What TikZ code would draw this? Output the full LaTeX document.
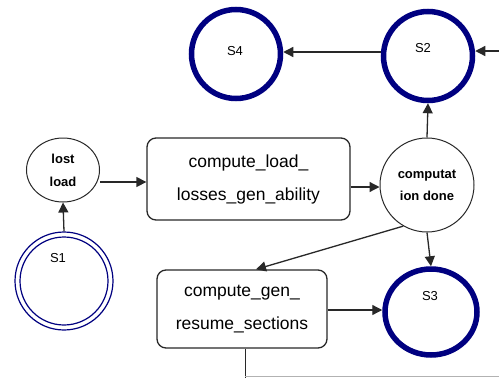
\documentclass[tikz,border=0pt]{standalone}
\usepackage{fontspec}
\setmainfont{Liberation Sans}
\usetikzlibrary{arrows.meta,shapes.geometric}
\definecolor{stnavy}{RGB}{0,0,128}
\definecolor{edge}{RGB}{40,40,40}
\begin{document}
\begin{tikzpicture}[x=1pt,y=-1pt,
  conn/.style={draw=edge,line width=1.3pt,-{Triangle[length=10pt,width=10pt]}},
  finalst/.style={circle,draw=stnavy,line width=5.5pt,minimum size=89pt,inner sep=0pt},
  procbox/.style={draw=edge,line width=1.3pt,rounded corners=9pt,inner sep=0pt,align=center,font=\fontsize{17.5}{33}\selectfont},
  slabel/.style={font=\bfseries\fontsize{13}{15}\selectfont},
  stlabel/.style={font=\fontsize{13}{14}\selectfont}
]
\useasboundingbox (0,0) rectangle (499,378);
\fill[white] (0,0) rectangle (499,378);

% final states
\node[finalst] (s4) at (236,54) {};
\node[stlabel] at (235,51) {S4};
\node[finalst] (s2) at (428,56) {};
\node[stlabel] at (423,48) {S2};
\node[finalst,minimum width=92pt,minimum height=86pt,ellipse] (s3) at (431,312) {};
\node[stlabel] at (430,296) {S3};

% initial state S1 (double ring)
\node[circle,draw=stnavy,line width=1.2pt,minimum size=98pt,inner sep=0pt] (s1) at (64,281) {};
\node[circle,draw=stnavy,line width=1.2pt,minimum size=88pt,inner sep=0pt] (s1in) at (64,281) {};
\node[stlabel] at (58,258) {S1};

% plain states
\node[ellipse,draw=edge,line width=1pt,minimum width=73pt,minimum height=64pt,inner sep=0pt,slabel,align=center] (lost) at (63,170) {lost\\[8pt]load};
\node[circle,draw=edge,line width=1pt,minimum size=94pt,inner sep=0pt,slabel,align=center] (done) at (427,185) {computat\\[7pt]ion done};

% process boxes
\node[procbox,minimum width=203pt,minimum height=82pt] (box1) at (248.5,179) {compute\_load\_\\losses\_gen\_ability};
\node[procbox,minimum width=170pt,minimum height=78pt] (box2) at (242,309) {compute\_gen\_\\resume\_sections};

% connectors
\draw[conn] (s1.north) -- (lost.south);
\draw[conn] (lost.east |- 0,182) -- (box1.west |- 0,182);
\draw[conn] (box1.east |- 0,187) -- (done.west |- 0,187);
\draw[conn] (done.north) -- (s2.south);
\coordinate (top) at (0,52);
\draw[conn] (s2.west |- top) -- (s4.east |- top);
\coordinate (rin) at (499,51);
\draw[conn] (rin) -- (s2.east |- rin);
\draw[conn] (done.south) -- (s3.north);
\draw[conn] (done.240) -- (box2.north -| 256,0);
\draw[conn] (box2.east |- 0,310) -- (s3.west |- 0,310);
\coordinate (bot) at (245.5,378);
\draw[draw=edge,line width=1.3pt] (box2.south -| bot) -- (bot);
\draw[gray!60,line width=1pt] (245,376.5) -- (499,376.5);
\end{tikzpicture}
\end{document}
